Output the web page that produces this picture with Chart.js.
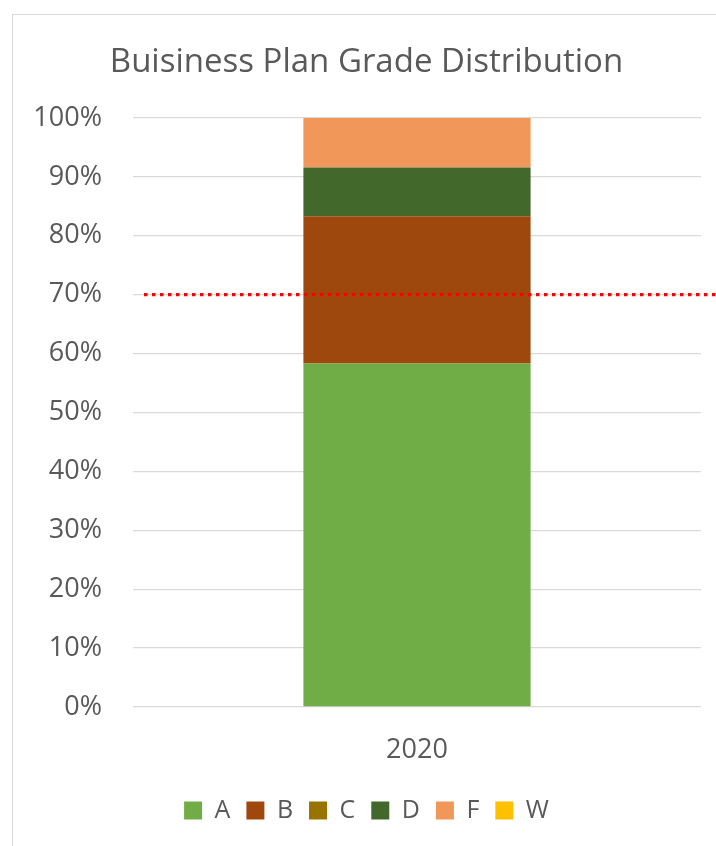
<!DOCTYPE html>
<html>
<head>
<meta charset="utf-8">
<script src="https://cdn.jsdelivr.net/npm/chart.js@4/dist/chart.umd.min.js"></script>
<style>
  html, body { margin: 0; padding: 0; background: #ffffff; overflow: hidden; width: 716px; height: 846px; }
  #frame { position: absolute; left: 12px; top: 14px; width: 720px; height: 840px; border: 1px solid #d9d9d9; box-sizing: border-box; }
  #c { position: absolute; left: 0; top: 0; }
</style>
</head>
<body>
<div id="frame"><canvas id="c" width="720" height="840"></canvas></div>
<script>
const categories = ["2020"];
const seriesNames = ["A", "B", "C", "D", "F", "W"];
const valuesA = [58.3];
const valuesB = [25.0];
const valuesC = [0];
const valuesD = [8.3];
const valuesF = [8.4];
const valuesW = [0];
const seriesColors = ["#70AD47", "#9E480E", "#997300", "#43682B", "#F1975A", "#FFC000"];
const yTickValues = [0, 10, 20, 30, 40, 50, 60, 70, 80, 90, 100];
const targetLine = 70;

const seriesValues = [valuesA, valuesB, valuesC, valuesD, valuesF, valuesW];

Chart.defaults.font.family = "'Open Sans', sans-serif";
Chart.defaults.color = "#595959";

const targetPlugin = {
  id: "targetLine",
  afterDatasetsDraw(chart) {
    const y = chart.scales.y.getPixelForValue(targetLine);
    const ctx = chart.ctx;
    ctx.save();
    ctx.strokeStyle = "#FF0000";
    ctx.lineWidth = 3.3;
    ctx.setLineDash([3.4, 4.6]);
    ctx.lineCap = "butt";
    ctx.beginPath();
    ctx.moveTo(chart.chartArea.left + 11, y);
    ctx.lineTo(chart.width, y);
    ctx.stroke();
    ctx.restore();
  }
};

new Chart(document.getElementById("c"), {
  type: "bar",
  data: {
    labels: categories,
    datasets: seriesNames.map((name, i) => ({
      label: name,
      data: seriesValues[i],
      backgroundColor: seriesColors[i],
      borderWidth: 0,
      barPercentage: 0.4,
      categoryPercentage: 1.0
    }))
  },
  options: {
    responsive: false,
    animation: false,
    layout: { padding: { left: 19, right: 32, top: 0, bottom: 22 } },
    plugins: {
      title: {
        display: true,
        text: "Buisiness Plan Grade Distribution",
        font: { size: 33, weight: "normal" },
        color: "#595959",
        padding: { top: 28, bottom: 35.4 }
      },
      legend: {
        position: "bottom",
        labels: {
          boxWidth: 18,
          boxHeight: 18,
          padding: 16,
          font: { size: 25 },
          color: "#595959"
        }
      },
      tooltip: { enabled: false }
    },
    scales: {
      x: {
        stacked: true,
        grid: { display: false },
        border: { display: false },
        ticks: { font: { size: 27 }, padding: 19, color: "#595959" },
        afterFit(scale) { scale.height = 75; }
      },
      y: {
        stacked: true,
        min: 0,
        max: 100,
        afterBuildTicks(scale) { scale.ticks = yTickValues.map(v => ({ value: v })); },
        grid: { color: "#d9d9d9", lineWidth: 1.3, drawTicks: false },
        border: { display: false },
        ticks: {
          font: { size: 27 },
          padding: 31,
          color: "#595959",
          callback: v => v + "%"
        },
        afterFit(scale) { scale.width = 101; }
      }
    }
  },
  plugins: [targetPlugin]
});
</script>
</body>
</html>
